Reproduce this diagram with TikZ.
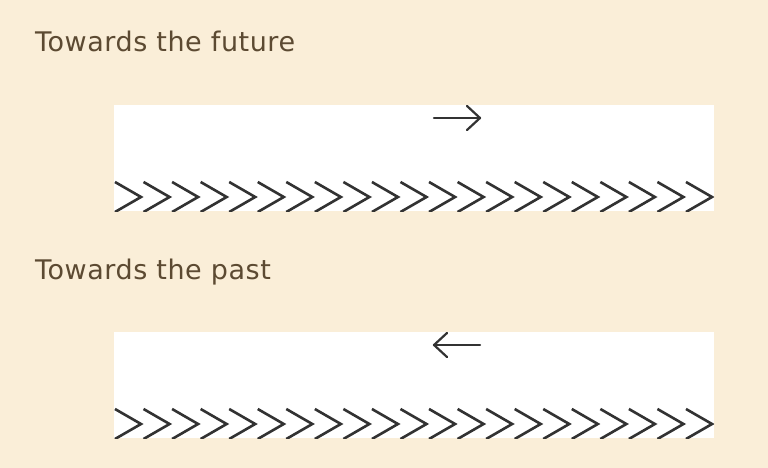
\documentclass[tikz,border=0pt]{standalone}
\usepackage{fontspec}
\setmainfont[LetterSpace=2]{DejaVu Sans}
\definecolor{paper}{RGB}{250,238,216}
\definecolor{ink}{RGB}{92,74,50}
\definecolor{chev}{RGB}{50,50,50}

\begin{document}
\begin{tikzpicture}[x=1pt, y=-1pt,
    caption/.style={anchor=base west, inner sep=0pt, text=ink,
        font=\fontsize{27}{32}\selectfont},
    strip/.style={fill=white},
    chevron/.style={draw=chev, line width=2.6pt, line join=miter},
    pointer/.style={draw=chev, line width=2.2pt, line cap=round, line join=round}]
        \fill[paper] (0, 0) rectangle (768, 468);
        % towards the future
        \node[caption] (future) at (35, 52) {Towards the future};
        \fill[strip] (114, 105) rectangle (714, 211);
        \begin{scope}
            \clip (114, 105) rectangle (714, 211);
            \foreach \i in {0,...,20}
                \draw[chevron] (115+28.55*\i, 182) -- ++(26, 15) -- ++(-26, 15);
        \end{scope}
        \coordinate (fwdtail) at (434, 118);
        \coordinate (fwdtip) at (480, 118);
        \draw[pointer] (fwdtail) -- (fwdtip);
        \draw[pointer] ([shift={(-13, -12)}]fwdtip) -- (fwdtip) -- ([shift={(-13, 12)}]fwdtip);
        % towards the past
        \node[caption] (past) at (35, 279) {Towards the past};
        \fill[strip] (114, 332) rectangle (714, 438);
        \begin{scope}
            \clip (114, 332) rectangle (714, 438);
            \foreach \i in {0,...,20}
                \draw[chevron] (115+28.55*\i, 409) -- ++(26, 15) -- ++(-26, 15);
        \end{scope}
        \coordinate (backtail) at (480, 345);
        \coordinate (backtip) at (434, 345);
        \draw[pointer] (backtail) -- (backtip);
        \draw[pointer] ([shift={(13, -12)}]backtip) -- (backtip) -- ([shift={(13, 12)}]backtip);
\end{tikzpicture}
\end{document}
